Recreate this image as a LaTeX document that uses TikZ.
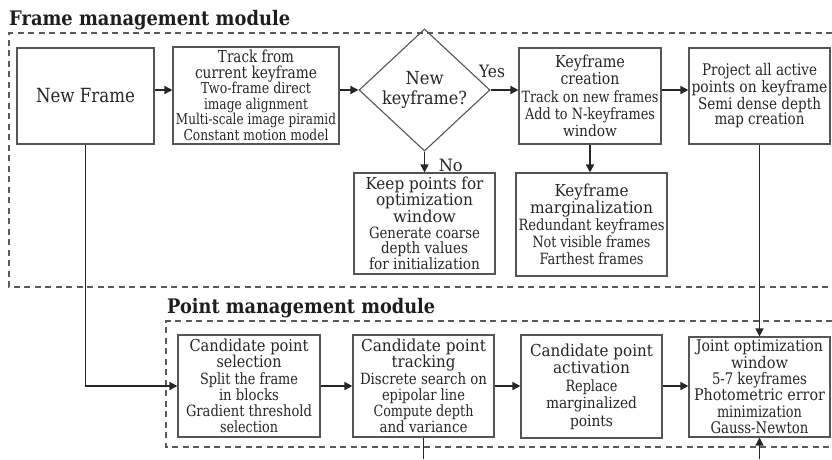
\documentclass[tikz,border=0pt]{standalone}
\usepackage{fontspec}
\usepackage{graphicx}
\setmainfont{DejaVu Serif}
\usetikzlibrary{arrows.meta,shapes.geometric}

% one line of box text: size, set width, text (height kept)
\newcommand\tline[3]{{\fontsize{#1}{\the\baselineskip}\selectfont\resizebox{#2pt}{\height}{#3}}}
\newcommand\pitch[1]{\fontsize{15}{#1}\selectfont}

\definecolor{boxgray}{HTML}{555555}
\definecolor{arrowc}{HTML}{262626}
\definecolor{framec}{HTML}{5A5A5A}
\definecolor{txt}{HTML}{262626}
\definecolor{titlec}{HTML}{1E1E1E}

\begin{document}
\begin{tikzpicture}[x=1pt,y=-1pt,
  box/.style={draw=boxgray, line width=1.1pt, align=center, inner sep=0pt, text=txt},
  arr/.style={draw=arrowc, line width=1.5pt, -{Triangle[length=8pt,width=8pt]}},
  plain/.style={draw=arrowc, line width=1.5pt},
  frame/.style={draw=framec, line width=1.2pt, dash pattern=on 6pt off 4.5pt},
  lbl/.style={inner sep=0pt, text=txt},
  ttl/.style={inner sep=0pt, anchor=base west, text=titlec, font=\bfseries}]
\useasboundingbox (0,0) rectangle (832,459);

% module frames (open on the right)
\draw[frame] (832,33) -| (9,287) -- (832,287);
\draw[frame] (832,321) -| (166,447) -- (832,447);
\node[ttl] (ttlframe) at (9,25) {\tline{20}{281}{Frame management module}};
\node[ttl] (ttlpoint) at (167,313) {\tline{20}{268}{Point management module}};

% frame management
\node[box, minimum width=137pt, minimum height=96pt] (nf) at (85.5,96)
  {\tline{19.5}{99}{New Frame}};
\node[box, minimum width=166pt, minimum height=97pt, font=\pitch{15.5}] (trk) at (256,95.5)
  {\tline{16.5}{76}{Track from}\\ \tline{16.5}{122}{current keyframe}\\
   \tline{15}{110}{Two-frame direct}\\ \tline{15}{104}{image alignment}\\
   \tline{15}{160}{Multi-scale image piramid}\\ \tline{15}{145}{Constant motion model}};
\node[diamond, draw=boxgray, line width=1.1pt, minimum width=131pt, minimum height=84pt,
      inner sep=0pt, align=center, text=txt, font=\pitch{20}] (dia) at (424.5,90)
  {\tline{18}{38}{New}\\ \tline{18}{85}{keyframe?}};
\node[box, minimum width=142pt, minimum height=96pt, font=\pitch{17.3}] (kfc) at (590,96)
  {\tline{16.5}{70}{Keyframe}\\ \tline{16.5}{59}{creation}\\
   \tline{15.5}{137}{Track on new frames}\\ \tline{15.5}{130}{Add to N-keyframes}\\
   \tline{15.5}{54}{window}};
\node[box, minimum width=141pt, minimum height=96pt, font=\pitch{15.5}] (prj) at (759.5,96)
  {\tline{16}{115}{Project all active}\\ \tline{16}{136}{points on keyframe}\\
   \tline{16}{123}{Semi dense depth}\\ \tline{16}{90}{map creation}};
\node[box, minimum width=141pt, minimum height=101pt, font=\pitch{15.6}] (keep) at (424.5,223.5)
  {\tline{16.5}{118}{Keep points for}\\ \tline{16.5}{97}{optimization}\\ \tline{16.5}{63}{window}\\
   \tline{15.5}{111}{Generate coarse}\\ \tline{15.5}{87}{depth values}\\
   \tline{15.5}{111}{for initialization}};
\node[box, minimum width=151pt, minimum height=103pt, font=\pitch{17}] (marg) at (591.5,224.5)
  {\tline{16.5}{74}{Keyframe}\\ \tline{16.5}{123}{marginalization}\\
   \tline{15.5}{146}{Redundant keyframes}\\ \tline{15.5}{118}{Not visible frames}\\
   \tline{15.5}{104}{Farthest frames}};

% point management
\node[box, minimum width=142pt, minimum height=102pt, font=\pitch{16.2}] (sel) at (249,386)
  {\tline{16.5}{119}{Candidate point}\\ \tline{16.5}{65}{selection}\\
   \tline{15.5}{98}{Split the frame}\\ \tline{15.5}{60}{in blocks}\\
   \tline{15.5}{126}{Gradient threshold}\\ \tline{15.5}{58}{selection}};
\node[box, minimum width=141pt, minimum height=102pt, font=\pitch{16.2}] (ctr) at (423.5,386)
  {\tline{16.5}{125}{Candidate point}\\ \tline{16.5}{64}{tracking}\\
   \tline{15.5}{127}{Discrete search on}\\ \tline{15.5}{83}{epipolar line}\\
   \tline{15.5}{100}{Compute depth}\\ \tline{15.5}{88}{and variance}};
\node[box, minimum width=141pt, minimum height=103pt, font=\pitch{17.5}] (act) at (591.5,386.5)
  {\tline{16.5}{123}{Candidate point}\\ \tline{16.5}{77}{activation}\\
   \tline{15.5}{52}{Replace}\\ \tline{15.5}{91}{marginalized}\\ \tline{15.5}{43}{points}};
\node[box, minimum width=141pt, minimum height=100pt, font=\pitch{16.4}] (jnt) at (759.5,387)
  {\tline{16}{127}{Joint optimization}\\ \tline{16}{57}{window}\\ \tline{16}{95}{5-7 keyframes}\\
   \tline{16}{131}{Photometric error}\\ \tline{16}{85}{minimization}\\ \tline{16}{98}{Gauss-Newton}};

\coordinate (bot) at (416,459);

% connectors
\draw[arr] (nf.east |- dia) -- (trk.west |- dia);
\draw[arr] (trk.east |- dia) -- (dia.west);
\draw[arr] (dia.east) -- node[lbl, at start, anchor=base, xshift=1.5pt, yshift=13pt] {\tline{17}{26}{Yes}} (kfc.west |- dia);
\draw[arr] (kfc.east |- dia) -- (prj.west |- dia);
\draw[arr] (dia.south) -- node[lbl, at start, anchor=base west, xshift=13.5pt, yshift=-20pt] {\tline{17}{24}{No}} (dia.south |- keep.north);
\draw[arr] (kfc.south) -- (kfc.south |- marg.north);
\draw[arr] (prj.south) -- (prj.south |- jnt.north);
\draw[arr] (nf.south) |- (sel.west);
\draw[arr] (sel.east) -- (ctr.west);
\draw[arr] (ctr.east) -- (act.west |- ctr);
\draw[arr] (act.east |- ctr) -- (jnt.west |- ctr);
\draw[plain] (ctr.south) -- (ctr.south |- bot);
\draw[arr] (jnt.south |- bot) -- (jnt.south);
\end{tikzpicture}
\end{document}
